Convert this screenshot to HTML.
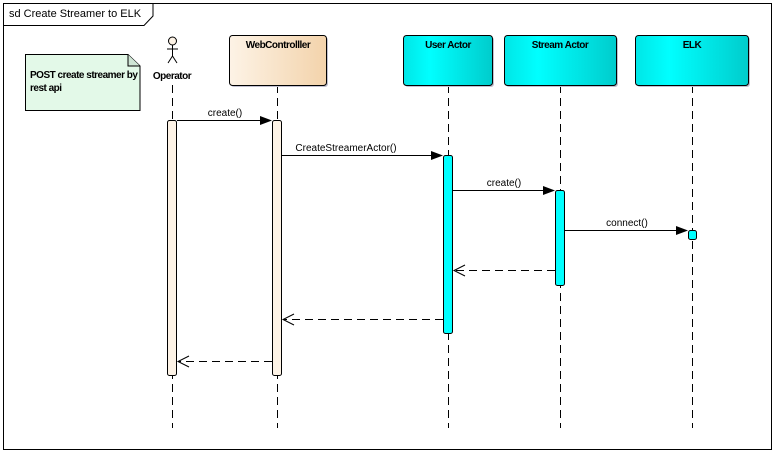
<!DOCTYPE html>
<html><head><meta charset="utf-8"><style>
body{margin:0;background:#fff;}
svg{display:block;font-family:"Liberation Sans",sans-serif;}
</style></head><body>
<svg width="775" height="453" viewBox="0 0 775 453" xmlns="http://www.w3.org/2000/svg">
<defs>
<linearGradient id="wc" x1="0" y1="0" x2="1" y2="0"><stop offset="0" stop-color="#fdf3e6"/><stop offset="1" stop-color="#f3d3ab"/></linearGradient>
<linearGradient id="cy" x1="0" y1="0" x2="1" y2="0"><stop offset="0" stop-color="#00e6e6"/><stop offset="0.3" stop-color="#00ffff"/><stop offset="1" stop-color="#00cccc"/></linearGradient>
</defs>
<rect x="3.5" y="3.5" width="768" height="446" fill="#fff" stroke="#000"/>
<path d="M3.5 25.5 H144 L153 16 V3.5" fill="none" stroke="#000"/>
<text x="9" y="17" font-size="11">sd Create Streamer to ELK</text>
<!-- note -->
<path d="M25.5 54.5 H128 L140 66 V110.5 H25.5 Z" fill="#e3f9e8" stroke="#000"/>
<path d="M128 54.5 V66 H140" fill="#cfe5d5" stroke="#000"/>
<text x="30" y="78" font-size="10" font-weight="bold" letter-spacing="-0.5">POST create streamer by</text>
<text x="30" y="91" font-size="10" font-weight="bold" letter-spacing="-0.5">rest api</text>
<!-- lifelines -->
<g stroke="#000" stroke-dasharray="8,5">
<line x1="172.5" y1="85" x2="172.5" y2="428"/>
<line x1="277.5" y1="85" x2="277.5" y2="428"/>
<line x1="448.5" y1="85" x2="448.5" y2="428"/>
<line x1="560.5" y1="85" x2="560.5" y2="428"/>
<line x1="692.5" y1="85" x2="692.5" y2="428"/>
</g>
<!-- actor -->
<g stroke="#000" fill="none">
<circle cx="172.5" cy="41" r="4" fill="#fdf3e6"/>
<line x1="172.5" y1="45" x2="172.5" y2="56"/>
<line x1="167" y1="49" x2="178" y2="49"/>
<line x1="172.5" y1="56" x2="168" y2="63"/>
<line x1="172.5" y1="56" x2="177" y2="63"/>
</g>
<text x="172" y="79" font-size="10" font-weight="bold" text-anchor="middle" letter-spacing="-0.5">Operator</text>
<!-- boxes -->
<rect x="231" y="37" width="97" height="50" rx="3" fill="#c0c0d0"/>
<rect x="229.5" y="35.5" width="97" height="50" rx="3" fill="url(#wc)" stroke="#000"/>
<text x="278" y="48" font-size="10" font-weight="bold" text-anchor="middle" letter-spacing="-0.5">WebControlller</text>
<rect x="405" y="37" width="89" height="50" rx="3" fill="#c0c0d0"/>
<rect x="403.5" y="35.5" width="89" height="50" rx="3" fill="url(#cy)" stroke="#000"/>
<text x="448" y="48" font-size="10" font-weight="bold" text-anchor="middle" letter-spacing="-0.5">User Actor</text>
<rect x="506" y="37" width="112" height="50" rx="3" fill="#c0c0d0"/>
<rect x="504.5" y="35.5" width="112" height="50" rx="3" fill="url(#cy)" stroke="#000"/>
<text x="560" y="48" font-size="10" font-weight="bold" text-anchor="middle" letter-spacing="-0.5">Stream Actor</text>
<rect x="637" y="37" width="113" height="50" rx="3" fill="#c0c0d0"/>
<rect x="635.5" y="35.5" width="113" height="50" rx="3" fill="url(#cy)" stroke="#000"/>
<text x="692" y="48" font-size="10" font-weight="bold" text-anchor="middle" letter-spacing="-0.5">ELK</text>
<!-- activations -->
<rect x="167.5" y="120.5" width="9" height="255" rx="2" fill="#fdf3e6" stroke="#000"/>
<rect x="272.5" y="120.5" width="9" height="255" rx="2" fill="#fdf3e6" stroke="#000"/>
<rect x="443.5" y="155.5" width="9" height="178" rx="2" fill="#00ffff" stroke="#000"/>
<rect x="555.5" y="190.5" width="9" height="95" rx="2" fill="#00ffff" stroke="#000"/>
<rect x="688.5" y="230.5" width="8" height="9" rx="2" fill="#00ffff" stroke="#000"/>
<!-- messages -->
<g stroke="#000">
<line x1="177" y1="120.5" x2="262" y2="120.5"/>
<line x1="282" y1="155.5" x2="433" y2="155.5"/>
<line x1="453" y1="190.5" x2="545" y2="190.5"/>
<line x1="565" y1="230.5" x2="678" y2="230.5"/>
</g>
<g fill="#000">
<path d="M272 120.5 L260 116 L260 125 Z"/>
<path d="M443 155.5 L431 151 L431 160 Z"/>
<path d="M555 190.5 L543 186 L543 195 Z"/>
<path d="M688 230.5 L676 226 L676 235 Z"/>
</g>
<g font-size="10" text-anchor="middle">
<text x="225" y="116">create()</text>
<text x="346" y="151">CreateStreamerActor()</text>
<text x="504" y="186">create()</text>
<text x="627" y="226">connect()</text>
</g>
<g stroke="#000" fill="none">
<line x1="555" y1="270.5" x2="454" y2="270.5" stroke-dasharray="8,5"/>
<path d="M465 265 L454 270.5 L465 276"/>
<line x1="443" y1="319.5" x2="283" y2="319.5" stroke-dasharray="8,5"/>
<path d="M294 314 L283 319.5 L294 325"/>
<line x1="272" y1="361.5" x2="178" y2="361.5" stroke-dasharray="8,5"/>
<path d="M189 356 L178 361.5 L189 367"/>
</g>
</svg>
</body></html>
